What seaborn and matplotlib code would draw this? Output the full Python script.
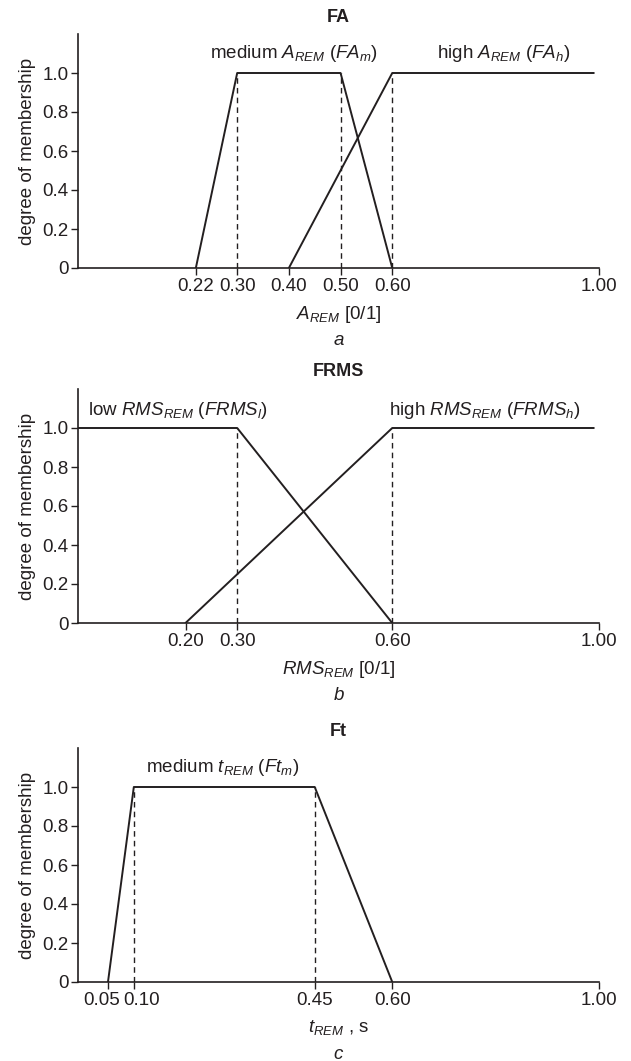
import numpy as np
import pandas as pd
import matplotlib
matplotlib.use("Agg")
import matplotlib.pyplot as plt
import matplotlib.transforms as mtransforms
import seaborn as sns

# ---------------- data ----------------
fa_medium_x = [0.22, 0.30, 0.50, 0.60]
fa_medium_y = [0.0, 1.0, 1.0, 0.0]
fa_high_x = [0.40, 0.60, 0.99]
fa_high_y = [0.0, 1.0, 1.0]
fa_dashed = [0.30, 0.50, 0.60]
fa_ticks = [0.22, 0.30, 0.40, 0.50, 0.60, 1.00]

frms_low_x = [-0.008, 0.30, 0.60]
frms_low_y = [1.0, 1.0, 0.0]
frms_high_x = [0.20, 0.60, 0.99]
frms_high_y = [0.0, 1.0, 1.0]
frms_dashed = [0.30, 0.60]
frms_ticks = [0.20, 0.30, 0.60, 1.00]

ft_medium_x = [0.05, 0.10, 0.45, 0.60]
ft_medium_y = [0.0, 1.0, 1.0, 0.0]
ft_dashed = [0.10, 0.45]
ft_ticks = [0.05, 0.10, 0.45, 0.60, 1.00]

y_ticks = [0.0, 0.2, 0.4, 0.6, 0.8, 1.0]
y_ticklabels = ["0", "0.2", "0.4", "0.6", "0.8", "1.0"]

# ---------------- style ----------------
sns.set_theme(style="ticks")
plt.rcParams["font.family"] = ["Liberation Sans", "DejaVu Sans"]
plt.rcParams["mathtext.fontset"] = "custom"
plt.rcParams["mathtext.rm"] = "Liberation Sans"
plt.rcParams["mathtext.it"] = "Liberation Sans:italic"
plt.rcParams["mathtext.bf"] = "Liberation Sans:bold"

INK = "#231f20"
FS = 13.5

fig = plt.figure(figsize=(6.31, 10.61), dpi=100)
left, width, height = 78 / 631, (599 - 78) / 631, 234 / 1061
bottoms = [1 - 268 / 1061, 1 - 623 / 1061, 1 - 982 / 1061]

panels = [
    dict(title="FA",
         series=[(fa_medium_x, fa_medium_y), (fa_high_x, fa_high_y)],
         dashed=fa_dashed, ticks=fa_ticks, shifts={},
         xlabel=r"$A_{REM}$ [0/1]", letter="a",
         notes=[(0.41, 1.075, r"medium $A_{REM}$ ($FA_m$)"),
                (0.815, 1.075, r"high $A_{REM}$ ($FA_h$)")]),
    dict(title="FRMS",
         series=[(frms_low_x, frms_low_y), (frms_high_x, frms_high_y)],
         dashed=frms_dashed, ticks=frms_ticks, shifts={},
         xlabel=r"$RMS_{REM}$ [0/1]", letter="b",
         notes=[(0.185, 1.067, r"low $RMS_{REM}$ ($FRMS_l$)"),
                (0.778, 1.067, r"high $RMS_{REM}$ ($FRMS_h$)")]),
    dict(title="Ft",
         series=[(ft_medium_x, ft_medium_y)],
         dashed=ft_dashed, ticks=ft_ticks, shifts={0: -6, 1: 8},
         xlabel=r"$t_{REM}$ , s", letter="c",
         notes=[(0.272, 1.077, r"medium $t_{REM}$ ($Ft_m$)")]),
]

for b, p in zip(bottoms, panels):
    ax = fig.add_axes([left, b, width, height])
    for sx, sy in p["series"]:
        df = pd.DataFrame({"x": sx, "y": sy})
        sns.lineplot(data=df, x="x", y="y", sort=False, estimator=None,
                     color=INK, lw=1.4, ax=ax)
    ax.vlines(p["dashed"], 0, 1, colors=INK, linestyles=(0, (4, 3)), lw=1.0)
    for tx, ty, s in p["notes"]:
        ax.text(tx, ty, s, ha="center", va="baseline", fontsize=FS, color=INK)
    ax.set_xlim(-0.008, 1.0)
    ax.set_ylim(0, 1.2)
    ax.set_xticks(p["ticks"])
    ax.set_xticklabels([f"{t:.2f}" for t in p["ticks"]])
    ax.set_yticks(y_ticks)
    ax.set_yticklabels(y_ticklabels)
    ax.tick_params(axis="both", direction="out", length=5, width=1.0,
                   colors=INK, labelsize=FS, pad=2)
    sns.despine(ax=ax)
    for sp in ("left", "bottom"):
        ax.spines[sp].set_linewidth(1.2)
        ax.spines[sp].set_color(INK)
    ax.set_xlabel(p["xlabel"], fontsize=FS, color=INK, labelpad=7)
    ax.set_ylabel("degree of membership", fontsize=FS, color=INK, labelpad=4)
    ax.set_title(p["title"], fontsize=13, fontweight="bold", color=INK, pad=9)
    ax.text(0.5, -0.31, p["letter"], transform=ax.transAxes, ha="center",
            va="center", fontsize=FS, style="italic", color=INK)
    ticks = ax.xaxis.get_major_ticks()
    for i, dx in p["shifts"].items():
        off = mtransforms.ScaledTranslation(dx / 100, 0, fig.dpi_scale_trans)
        ticks[i].label1.set_transform(ticks[i].label1.get_transform() + off)

fig.savefig("out.png", dpi=100)
